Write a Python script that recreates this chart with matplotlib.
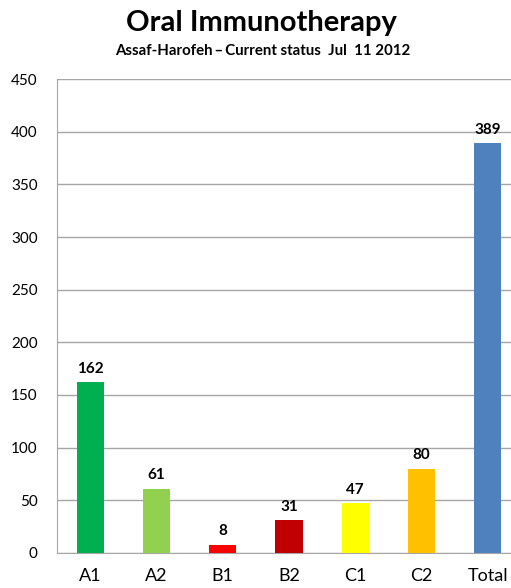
import matplotlib
matplotlib.use("Agg")
import matplotlib.pyplot as plt

# patient counts per group
groups = ["A1", "A2", "B1", "B2", "C1", "C2", "Total"]
counts = [162, 61, 8, 31, 47, 80, 389]
colors = ["#00B050", "#92D050", "#FF0000", "#C00000", "#FFFF00", "#FFC000", "#4F81BD"]
yticks = [0, 50, 100, 150, 200, 250, 300, 350, 400, 450]

plt.rcParams["font.family"] = ["Lato", "DejaVu Sans"]

fig = plt.figure(figsize=(5.11, 5.88), dpi=100)
ax = fig.add_axes([57 / 511, 35 / 588, 464 / 511, 474 / 588])

x = range(len(groups))
bars = ax.bar(x, counts, width=0.41, color=colors, zorder=3)
for b, v in zip(bars, counts):
    ax.text(b.get_x() + b.get_width() / 2, v + 6, str(v), ha="center", va="bottom",
            fontsize=11, fontweight="bold")

ax.set_xlim(-0.5, len(groups) - 0.5)
ax.set_ylim(0, 450)
ax.set_yticks(yticks)
ax.set_xticks(list(x))
ax.set_xticklabels(groups, fontsize=13)
ax.tick_params(axis="y", labelsize=11, length=0, pad=14)
ax.tick_params(axis="x", length=0, pad=11)
ax.grid(axis="y", color="#A6A6A6", linewidth=1, zorder=0)
for s in ["top", "right"]:
    ax.spines[s].set_visible(False)
ax.spines["left"].set_color("#A6A6A6")
ax.spines["bottom"].set_color("#A6A6A6")

fig.text(261 / 511, 1 - 23 / 588, "Oral Immunotherapy", ha="center", va="center",
         fontsize=21, fontweight="bold")
fig.text(263 / 511, 1 - 51 / 588, "Assaf-Harofeh\u2009\u2013\u2009Current status  Jul  11 2012",
         ha="center", va="center", fontsize=10.8, fontweight="bold")

fig.savefig("out.png", dpi=100)
